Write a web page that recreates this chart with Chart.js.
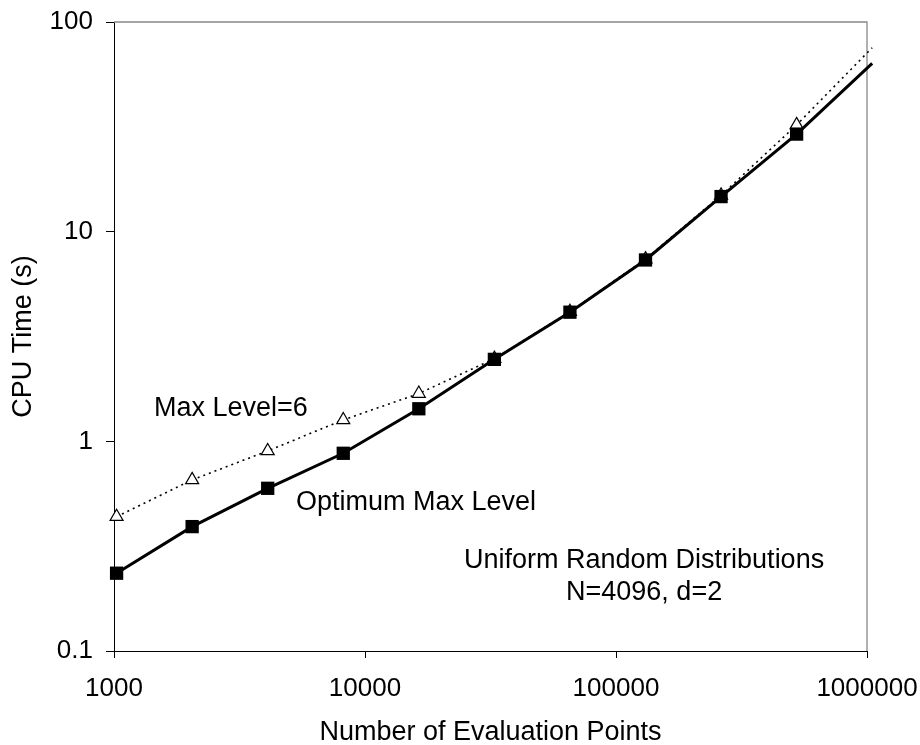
<!DOCTYPE html>
<html>
<head>
<meta charset="utf-8">
<script src="https://cdn.jsdelivr.net/npm/chart.js@4/dist/chart.umd.min.js"></script>
<style>
  html, body { margin: 0; padding: 0; background: #ffffff; }
  canvas { display: block; }
</style>
</head>
<body>
<canvas id="chart" width="920" height="745"></canvas>
<script>
// Number of evaluation points (powers of two)
const evalPoints = [1024, 2048, 4096, 8192, 16384, 32768, 65536, 131072, 262144, 524288, 1048576];
// CPU time in seconds, optimum max level per run
const optimumTimes = [0.235, 0.392, 0.597, 0.877, 1.43, 2.46, 4.13, 7.33, 14.7, 29.2, 63.5];
// CPU time in seconds, max level fixed at 6
const maxLevel6Times = [0.437, 0.655, 0.90, 1.265, 1.69, 2.48, 4.15, 7.4, 14.9, 32.3, 75.4];

const xTickValues = [1000, 10000, 100000, 1000000];
const yTickValues = [0.1, 1, 10, 100];
const seriesNames = ['Optimum Max Level', 'Max Level=6'];
const noteLines = ['Uniform Random Distributions', 'N=4096, d=2'];

const FONT = '"Liberation Sans", Arial, sans-serif';
const TEXT_SIZE = 27;
const TICK_SIZE = 26;
const lastIndex = evalPoints.length - 1;

const toPoints = ys => evalPoints.map((x, i) => ({ x: x, y: ys[i] }));

// Grey frame on the top and right edges of the plot area
const framePlugin = {
  id: 'frame',
  beforeDatasetsDraw(chart) {
    const { ctx, chartArea: a } = chart;
    ctx.save();
    ctx.strokeStyle = '#888888';
    ctx.lineWidth = 1.3;
    ctx.beginPath();
    ctx.moveTo(a.left, a.top);
    ctx.lineTo(a.right, a.top);
    ctx.lineTo(a.right, a.bottom);
    ctx.stroke();
    ctx.restore();
  }
};

// Series labels and the distribution note, anchored in data coordinates
const labels = [
  { text: seriesNames[1], x: 1443, y: 1.43, align: 'left' },
  { text: seriesNames[0], x: 5309, y: 0.512, align: 'left' },
  { text: noteLines[0], x: 129400, y: 0.270, align: 'center' },
  { text: noteLines[1], x: 129400, y: 0.190, align: 'center' }
];

const labelPlugin = {
  id: 'labels',
  afterDatasetsDraw(chart) {
    const { ctx, scales } = chart;
    ctx.save();
    ctx.font = TEXT_SIZE + 'px ' + FONT;
    ctx.fillStyle = '#000000';
    ctx.textBaseline = 'middle';
    labels.forEach(l => {
      ctx.textAlign = l.align;
      ctx.fillText(l.text, scales.x.getPixelForValue(l.x), scales.y.getPixelForValue(l.y));
    });
    ctx.restore();
  }
};

const tickFont = { family: FONT, size: TICK_SIZE, lineHeight: 1 };
const titleFont = { family: FONT, size: TEXT_SIZE, lineHeight: 1 };
const xTitleFont = { family: FONT, size: TEXT_SIZE, lineHeight: 0.95 };

new Chart(document.getElementById('chart'), {
  type: 'line',
  data: {
    datasets: [
      {
        label: seriesNames[0],
        data: toPoints(optimumTimes),
        borderColor: '#000000',
        backgroundColor: '#000000',
        borderWidth: 3,
        tension: 0,
        clip: false,
        pointStyle: 'rect',
        pointRadius: ctx => (ctx.dataIndex === lastIndex ? 0 : 9.4),
        pointBackgroundColor: '#000000',
        pointBorderColor: '#000000',
        pointBorderWidth: 0
      },
      {
        label: seriesNames[1],
        data: toPoints(maxLevel6Times),
        borderColor: '#000000',
        backgroundColor: '#ffffff',
        borderWidth: 1.6,
        borderDash: [2, 4],
        tension: 0,
        clip: false,
        pointStyle: 'triangle',
        pointRadius: ctx => (ctx.dataIndex === lastIndex ? 0 : 7.5),
        pointBackgroundColor: '#ffffff',
        pointBorderColor: '#000000',
        pointBorderWidth: 1.2
      }
    ]
  },
  options: {
    responsive: false,
    devicePixelRatio: 1,
    animation: false,
    parsing: false,
    layout: { padding: { top: 22, right: 53, bottom: 0, left: 0 } },
    plugins: {
      legend: { display: false },
      tooltip: { enabled: false }
    },
    scales: {
      x: {
        type: 'logarithmic',
        position: 'bottom',
        min: 1000,
        max: 1000000,
        afterBuildTicks: s => { s.ticks = xTickValues.map(v => ({ value: v })); },
        afterFit: s => { s.height = 94; s.paddingLeft = 0; s.paddingRight = 0; },
        ticks: {
          callback: v => String(v),
          color: '#000000',
          font: tickFont,
          padding: 18,
          maxRotation: 0,
          autoSkip: false
        },
        grid: { drawOnChartArea: false, drawTicks: true, tickLength: 7, color: '#000000', tickColor: '#000000' },
        border: { display: true, color: '#000000', width: 1 },
        title: {
          display: true,
          text: 'Number of Evaluation Points',
          color: '#000000',
          font: xTitleFont,
          padding: { top: 0, bottom: 0 }
        }
      },
      y: {
        type: 'logarithmic',
        position: 'left',
        min: 0.1,
        max: 100,
        afterBuildTicks: s => { s.ticks = yTickValues.map(v => ({ value: v })); },
        afterFit: s => { s.width = 114; s.paddingTop = 0; s.paddingBottom = 0; },
        ticks: {
          callback: v => String(v),
          color: '#000000',
          font: tickFont,
          padding: 13,
          autoSkip: false
        },
        grid: { drawOnChartArea: false, drawTicks: true, tickLength: 8, color: '#000000', tickColor: '#000000' },
        border: { display: true, color: '#000000', width: 1 },
        title: {
          display: true,
          text: 'CPU Time (s)',
          color: '#000000',
          font: titleFont,
          padding: { top: 10.5, bottom: 0 }
        }
      }
    }
  },
  plugins: [framePlugin, labelPlugin]
});
</script>
</body>
</html>
